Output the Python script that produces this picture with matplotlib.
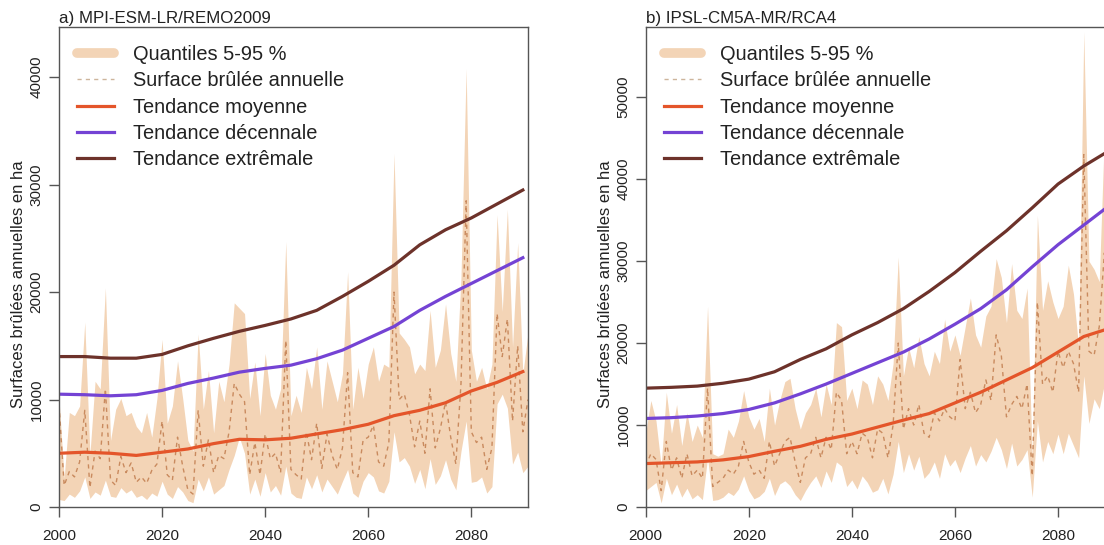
import matplotlib
matplotlib.use("Agg")
import matplotlib.pyplot as plt
from matplotlib.lines import Line2D
import numpy as np

plt.rcParams['font.family'] = ['Liberation Sans', 'DejaVu Sans']

# years of the annual series and of the smoothed trends
years = np.arange(2000, 2092)
trend_years = np.arange(2000, 2091, 5)

# a) MPI-ESM-LR/REMO2009, values in thousands of ha
a_q95 = [10.1, 2.7, 8.8, 8.5, 9.4, 17.2, 4.9, 11.7, 11.0, 20.4,
         6.2, 9.1, 10.1, 8.5, 8.8, 7.5, 6.9, 8.8, 6.5, 10.1,
         15.6, 7.8, 9.4, 13.6, 10.1, 6.2, 5.2, 16.1, 9.1, 12.7,
         6.9, 11.7, 9.8, 13.3, 19.0, 18.5, 18.0, 10.1, 13.5, 8.5,
         14.3, 10.4, 9.1, 11.0, 24.7, 8.5, 10.4, 8.8, 13.0, 11.0,
         14.9, 9.1, 13.6, 11.7, 9.8, 12.4, 21.9, 9.1, 13.0, 10.1,
         13.3, 14.9, 11.7, 13.3, 13.0, 32.9, 16.2, 15.6, 14.9, 12.4,
         13.3, 12.7, 18.3, 13.0, 14.6, 18.9, 14.3, 11.7, 21.4, 40.8,
         14.6, 11.7, 13.0, 11.0, 13.3, 27.2, 18.2, 27.7, 14.9, 24.6,
         12.4, 16.2]
a_med = [9.5, 2.0, 3.3, 2.8, 4.2, 9.0, 1.8, 5.2, 4.5, 11.0,
         2.5, 2.0, 4.7, 3.2, 4.1, 2.3, 2.8, 2.2, 3.4, 4.0,
         8.0, 3.0, 2.5, 6.5, 3.8, 1.6, 1.2, 9.0, 3.8, 6.3,
         3.2, 4.8, 4.5, 7.0, 11.5, 10.5, 9.8, 3.0, 6.0, 3.0,
         6.8, 4.5, 5.0, 3.2, 15.5, 3.5, 3.0, 2.6, 7.0, 4.4,
         7.8, 3.6, 6.8, 4.8, 3.5, 5.5, 12.5, 3.2, 2.8, 6.2,
         6.5, 7.6, 4.2, 3.8, 6.0, 20.0, 10.0, 10.5, 8.6, 5.6,
         8.0, 5.0, 11.0, 5.5, 7.3, 9.8, 6.5, 4.0, 11.5, 28.5,
         7.0, 6.0, 6.5, 3.5, 5.5, 18.0, 14.0, 17.5, 8.0, 15.0,
         7.0, 10.0]
a_q5 = [0.7, 0.6, 1.2, 0.9, 1.5, 2.8, 0.8, 1.4, 1.1, 2.5,
        1.0, 0.9, 1.8, 1.3, 1.6, 0.9, 1.1, 0.7, 1.3, 1.0,
        2.4, 1.2, 0.8, 1.9, 1.4, 0.6, 0.4, 2.6, 1.5, 2.8,
        1.2, 1.6, 2.0, 3.5, 4.8, 6.5, 5.0, 1.2, 2.6, 1.0,
        3.2, 1.4, 2.0, 1.1, 3.8, 1.3, 0.9, 0.8, 2.8, 1.7,
        3.0, 1.4, 2.6, 1.9, 1.2, 2.4, 3.5, 1.3, 0.9, 2.4,
        3.2, 2.8, 1.5, 1.3, 2.4, 7.0, 4.2, 4.6, 3.8, 2.2,
        3.5, 1.7, 4.5, 2.1, 2.9, 4.4, 2.6, 1.6, 5.2, 8.0,
        2.3, 2.4, 2.8, 1.3, 1.9, 9.6, 10.5, 9.2, 4.0, 5.1,
        3.2, 3.8]
a_moy = [5.0, 5.1, 5.0, 4.8, 5.1, 5.4, 5.9, 6.3, 6.25, 6.4,
         6.8, 7.2, 7.7, 8.5, 9.0, 9.7, 10.8, 11.6, 12.6]
a_dec = [10.5, 10.45, 10.35, 10.45, 10.85, 11.5, 12.0, 12.55, 12.9, 13.2,
         13.8, 14.6, 15.7, 16.8, 18.3, 19.6, 20.8, 22.0, 23.2]
a_ext = [14.0, 14.0, 13.85, 13.85, 14.2, 15.0, 15.7, 16.35, 16.9, 17.5,
         18.3, 19.6, 21.0, 22.5, 24.4, 25.8, 26.9, 28.2, 29.5]

# b) IPSL-CM5A-MR/RCA4, values in thousands of ha
b_q95 = [9.0, 13.0, 10.5, 5.0, 14.0, 9.0, 12.5, 7.5, 11.5, 8.0,
         10.0, 8.5, 24.5, 6.5, 6.2, 6.5, 9.5, 8.5, 10.5, 14.2,
         11.0, 9.5, 10.8, 8.0, 14.5, 10.0, 13.0, 15.3, 15.7, 12.0,
         9.5, 11.5, 12.5, 14.5, 11.0, 15.0, 12.5, 22.5, 22.0, 13.0,
         14.5, 12.0, 15.5, 15.0, 12.5, 16.0, 15.0, 13.0, 17.5, 30.5,
         16.0, 19.5, 17.0, 20.8, 17.5, 16.0, 19.0, 17.5, 22.9, 19.0,
         21.0, 18.5, 22.0, 25.5, 21.0, 19.5, 23.3, 24.5, 30.3, 28.0,
         22.5, 29.7, 24.0, 23.0, 26.7, 6.0, 35.6, 24.0, 27.6, 25.0,
         23.0, 24.5, 29.5, 26.0, 19.5, 58.0, 30.0, 29.0, 27.5, 45.5,
         30.0, 33.0]
b_med = [5.0, 6.5, 5.8, 2.0, 8.0, 4.5, 6.0, 3.5, 6.5, 3.8,
         4.5, 3.5, 14.5, 2.5, 3.0, 3.5, 4.5, 4.0, 5.0, 8.0,
         5.5, 4.0, 4.5, 3.5, 8.0, 5.0, 6.5, 8.0, 8.5, 5.5,
         3.0, 6.0, 6.5, 8.5, 6.0, 8.5, 7.0, 14.0, 13.0, 6.5,
         8.0, 6.5, 9.0, 8.5, 6.0, 9.5, 9.0, 6.0, 10.0, 20.0,
         9.5, 12.0, 10.0, 12.5, 9.0, 8.5, 11.5, 10.5, 12.0, 11.0,
         10.5, 18.0, 12.0, 14.0, 11.5, 12.5, 15.5, 13.0, 21.0, 18.5,
         11.0, 12.5, 13.5, 12.0, 15.0, 3.8, 25.0, 15.0, 16.0, 14.0,
         19.0, 17.0, 19.0, 17.5, 14.0, 43.0, 19.0, 18.5, 22.0, 31.0,
         21.0, 24.0]
b_q5 = [2.0, 2.5, 3.0, 0.5, 3.5, 1.5, 2.8, 1.2, 2.3, 1.0,
        1.5, 0.9, 6.0, 0.8, 0.9, 1.2, 1.8, 1.4, 2.2, 3.8,
        2.0, 1.0, 1.3, 1.9, 3.5, 1.4, 2.8, 3.2, 2.6, 1.5,
        0.8, 2.0, 3.0, 3.8, 2.4, 4.4, 3.0, 5.5, 5.0, 2.5,
        3.3, 2.2, 3.8, 3.0, 1.8, 2.1, 3.5, 1.6, 4.0, 8.0,
        4.2, 6.5, 4.5, 6.2, 3.5, 4.2, 5.5, 3.5, 6.5, 5.0,
        5.8, 4.2, 6.0, 7.5, 5.0, 6.4, 5.5, 6.8, 8.5, 7.0,
        4.7, 7.8, 5.0, 5.8, 7.0, 1.2, 10.5, 5.5, 8.0, 6.5,
        8.9, 6.5, 9.0, 7.5, 6.0, 16.0, 10.2, 13.2, 12.0, 15.0,
        11.0, 12.5]
b_moy = [5.3, 5.4, 5.5, 5.75, 6.15, 6.8, 7.4, 8.25, 8.9, 9.75,
         10.6, 11.4, 12.7, 14.0, 15.5, 17.0, 18.9, 20.8, 21.8]
b_dec = [10.8, 10.9, 11.1, 11.4, 11.9, 12.7, 13.8, 15.0, 16.3, 17.6,
         18.9, 20.5, 22.3, 24.2, 26.5, 29.3, 32.0, 34.4, 36.8]
b_ext = [14.5, 14.6, 14.75, 15.1, 15.6, 16.5, 18.0, 19.3, 21.0, 22.5,
         24.2, 26.3, 28.6, 31.2, 33.7, 36.5, 39.4, 41.6, 43.5]

legend_labels = ["Quantiles 5-95 %", "Surface brûlée annuelle",
                 "Tendance moyenne", "Tendance décennale", "Tendance extrêmale"]

BAND = '#F3D4B6'
DASH = '#C98A5E'
DASH_LEG = '#CDB59C'
ORANGE = '#E4552A'
PURPLE = '#7443D4'
BROWN = '#6D322A'
AXIS = '#555555'
TEXT = '#222222'


def draw_panel(ax, title, q5, med, q95, moy, dec, ext, ymax, yticks):
    k = 1000.0
    ax.fill_between(years, np.array(q5) * k, np.array(q95) * k,
                    color=BAND, lw=0)
    ax.plot(years, np.array(med) * k, color=DASH, lw=1, ls=(0, (3, 3)))
    ax.plot(trend_years, np.array(moy) * k, color=ORANGE, lw=2.3)
    ax.plot(trend_years, np.array(dec) * k, color=PURPLE, lw=2.3)
    ax.plot(trend_years, np.array(ext) * k, color=BROWN, lw=2.3)

    ax.set_xlim(2000, 2091)
    ax.set_ylim(0, ymax)
    ax.set_xticks([2000, 2020, 2040, 2060, 2080])
    ax.set_yticks(yticks)
    ax.tick_params(colors=AXIS, labelcolor=TEXT, length=7, width=1,
                   labelsize=11)
    ax.tick_params(axis='x', pad=8.5)
    ax.tick_params(axis='y', pad=4)
    for lab in ax.get_yticklabels():
        lab.set_rotation(90)
        lab.set_va('center')
    for s in ax.spines.values():
        s.set_color(AXIS)
        s.set_linewidth(1)

    ax.set_title(title, loc='left', fontsize=12.2, pad=2.5, color=TEXT)
    ax.set_ylabel("Surfaces brûlées annuelles en ha", fontsize=12,
                  color=TEXT)
    ax.yaxis.set_label_coords(-0.07, 0.464)

    handles = [
        Line2D([], [], color=BAND, lw=7, solid_capstyle='round'),
        Line2D([], [], color=DASH_LEG, lw=1, ls=(0, (3, 3))),
        Line2D([], [], color=ORANGE, lw=2.3),
        Line2D([], [], color=PURPLE, lw=2.3),
        Line2D([], [], color=BROWN, lw=2.3),
    ]
    leg = ax.legend(handles, legend_labels, loc='upper left',
                    bbox_to_anchor=(18 / 469, 0.9625), frameon=False,
                    fontsize=14.4, handlelength=1.85, handletextpad=0.95,
                    labelspacing=0.37, borderpad=0, borderaxespad=0)
    for t in leg.get_texts():
        t.set_color(TEXT)


fig = plt.figure(figsize=(11.04, 5.45), dpi=100)
w = 469 / 1104
h = (507 - 26.7) / 545
y0 = (545 - 507) / 545
ax_a = fig.add_axes([59 / 1104, y0, w, h])
ax_b = fig.add_axes([645.7 / 1104, y0, w, h])

draw_panel(ax_a, "a) MPI-ESM-LR/REMO2009", a_q5, a_med, a_q95,
           a_moy, a_dec, a_ext, 44700, [0, 10000, 20000, 30000, 40000])
draw_panel(ax_b, "b) IPSL-CM5A-MR/RCA4", b_q5, b_med, b_q95,
           b_moy, b_dec, b_ext, 58600, [0, 10000, 20000, 30000, 40000, 50000])

fig.savefig("out.png", dpi=100)
